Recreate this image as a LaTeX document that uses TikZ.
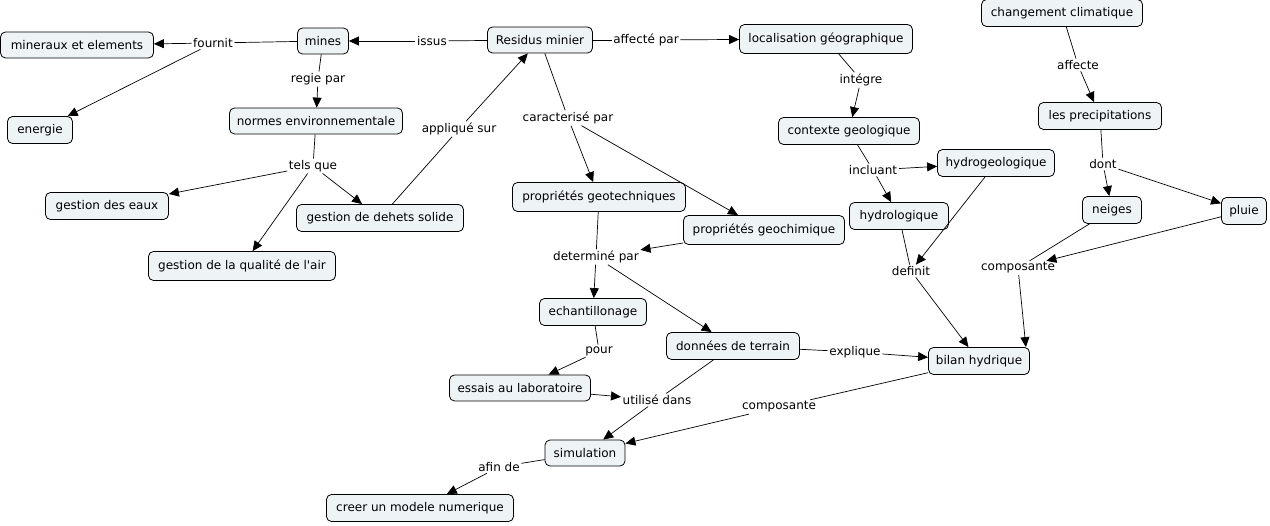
\documentclass[tikz,border=0pt]{standalone}
\usepackage{fontspec}
\setmainfont{DejaVu Sans}[Ligatures=TeXOff]
\usetikzlibrary{arrows.meta}
\definecolor{cfill}{RGB}{238,243,246}
\begin{document}
\begin{tikzpicture}[x=1pt,y=-1pt,
  every node/.style={font=\fontsize{12}{14}\selectfont},
  concept/.style={draw=black, line width=0.8pt, fill=cfill, rounded corners=5pt,
    minimum height=26pt, inner xsep=4pt, inner ysep=2pt, anchor=center},
  lbl/.style={inner sep=1.5pt, fill=none},
  con/.style={line width=0.7pt, draw=black},
  arr/.style={con, -{Triangle[length=10pt,width=9pt]}}]
\useasboundingbox (0,0) rectangle (1270,526);
% concepts
\node[concept, minimum width=153pt] (min) at (77,45) {mineraux et elements};
\node[concept, minimum width=51pt] (mines) at (323,41) {mines};
\node[concept, minimum width=105pt] (res) at (540,40) {Residus minier};
\node[concept, minimum width=173pt, minimum height=29pt] (loc) at (826,39) {localisation géographique};
\node[concept, minimum width=161pt, minimum height=27pt] (chg) at (1062,13) {changement climatique};
\node[concept, minimum width=65pt, minimum height=27pt] (ene) at (40,130) {energie};
\node[concept, minimum width=173pt] (norm) at (316,121) {normes environnementale};
\node[concept, minimum width=141pt, minimum height=27pt] (ctx) at (849,131) {contexte geologique};
\node[concept, minimum width=123pt, minimum height=27pt] (prec) at (1100,116) {les precipitations};
\node[concept, minimum width=117pt, minimum height=27pt] (hgeo) at (996,163) {hydrogeologique};
\node[concept, minimum width=123pt, minimum height=27pt] (geaux) at (107,206) {gestion des eaux};
\node[concept, minimum width=167pt, minimum height=27pt] (gsol) at (380,218) {gestion de dehets solide};
\node[concept, minimum width=173pt, minimum height=29pt] (ptech) at (599,197) {propriétés geotechniques};
\node[concept, minimum width=161pt, minimum height=29pt] (pchim) at (764,230) {propriétés geochimique};
\node[concept, minimum width=99pt, minimum height=27pt] (hydro) at (899,216) {hydrologique};
\node[concept, minimum width=59pt, minimum height=27pt] (neig) at (1112,210) {neiges};
\node[concept, minimum width=45pt, minimum height=27pt] (pluie) at (1244,211) {pluie};
\node[concept, minimum width=187pt, minimum height=29pt] (gair) at (242,266) {gestion de la qualité de l'air};
\node[concept, minimum width=107pt, minimum height=27pt] (ech) at (593,312) {echantillonage};
\node[concept, minimum width=133pt, minimum height=27pt] (don) at (733,346) {données de terrain};
\node[concept, minimum width=101pt, minimum height=27pt] (bil) at (979,361) {bilan hydrique};
\node[concept, minimum width=141pt] (ess) at (520,388) {essais au laboratoire};
\node[concept, minimum width=80pt] (sim) at (585,453) {simulation};
\node[concept, minimum width=187pt, minimum height=27pt] (cre) at (420,508) {creer un modele numerique};
% link labels
\node[lbl] (Lfour) at (213,43) {fournit};
\node[lbl] (Liss) at (432,41) {issus};
\node[lbl] (Laff) at (646,40) {affecté par};
\node[lbl] (Lreg) at (318,79) {regie par};
\node[lbl] (Lint) at (861,80) {intégre};
\node[lbl] (Lafc) at (1078,65) {affecte};
\node[lbl] (Lapp) at (459,129) {appliqué sur};
\node[lbl] (Lcar) at (568,118) {caracterisé par};
\node[lbl] (Ltel) at (313,166) {tels que};
\node[lbl] (Linc) at (873,170) {incluant};
\node[lbl] (Ldon) at (1103,164) {dont};
\node[lbl] (Ldet) at (596,257) {determiné par};
\node[lbl] (Ldef) at (911,271) {definit};
\node[lbl] (Lcomp) at (1018,268) {composante};
\node[lbl] (Lpour) at (599,351) {pour};
\node[lbl] (Lexp) at (855,352) {explique};
\node[lbl] (Luti) at (657,400) {utilisé dans};
\node[lbl] (Lcomp2) at (779,407) {composante};
\node[lbl] (Lafin) at (499,467) {afin de};
\coordinate (bilNE) at ([xshift=-4pt]bil.north east);
% connectors
\draw[con] (mines) -- (Lfour);
\draw[arr] (Lfour) -- (min);
\draw[arr] (Lfour) -- (ene);
\draw[con] (res) -- (Liss);
\draw[arr] (Liss) -- (mines);
\draw[con] (res) -- (Laff);
\draw[arr] (Laff) -- (loc);
\draw[con] (mines) -- (Lreg);
\draw[arr] (Lreg) -- (norm);
\draw[con] (loc) -- (Lint);
\draw[arr] (Lint) -- (ctx);
\draw[con] (chg) -- (Lafc);
\draw[arr] (Lafc) -- (prec);
\draw[con] (norm) -- (Ltel);
\draw[arr] (Ltel) -- (geaux);
\draw[arr] (Ltel) -- (gair);
\draw[arr] (Ltel) -- (gsol);
\draw[con] (gsol) -- (Lapp);
\draw[arr] (Lapp) -- (res);
\draw[con] (res) -- (Lcar);
\draw[arr] (Lcar) -- (ptech);
\draw[arr] (Lcar) -- (pchim);
\draw[con] (ctx) -- (Linc);
\draw[arr] (Linc) -- (hgeo);
\draw[arr] (Linc) -- (hydro);
\draw[con] (prec) -- (Ldon);
\draw[arr] (Ldon) -- (neig);
\draw[arr] (Ldon) -- (pluie);
\draw[con] (ptech) -- (Ldet);
\draw[arr] (pchim) -- (Ldet);
\draw[arr] (Ldet) -- (ech);
\draw[arr] (Ldet) -- (don);
\draw[con] (hydro) -- (Ldef);
\draw[arr] (hgeo) -- (Ldef);
\draw[arr] (Ldef) -- (bil);
\draw[con] (neig) -- (Lcomp);
\draw[arr] (pluie) -- (Lcomp);
\draw[arr] (Lcomp) -- (bilNE);
\draw[con] (ech) -- (Lpour);
\draw[arr] (Lpour) -- (ess);
\draw[con] (don) -- (Lexp);
\draw[arr] (Lexp) -- (bil);
\draw[arr] (ess) -- (Luti);
\draw[con] (don) -- (Luti);
\draw[arr] (Luti) -- (sim);
\draw[con] (bil) -- (Lcomp2);
\draw[arr] (Lcomp2) -- (sim);
\draw[con] (sim) -- (Lafin);
\draw[arr] (Lafin) -- (cre);
\end{tikzpicture}
\end{document}
